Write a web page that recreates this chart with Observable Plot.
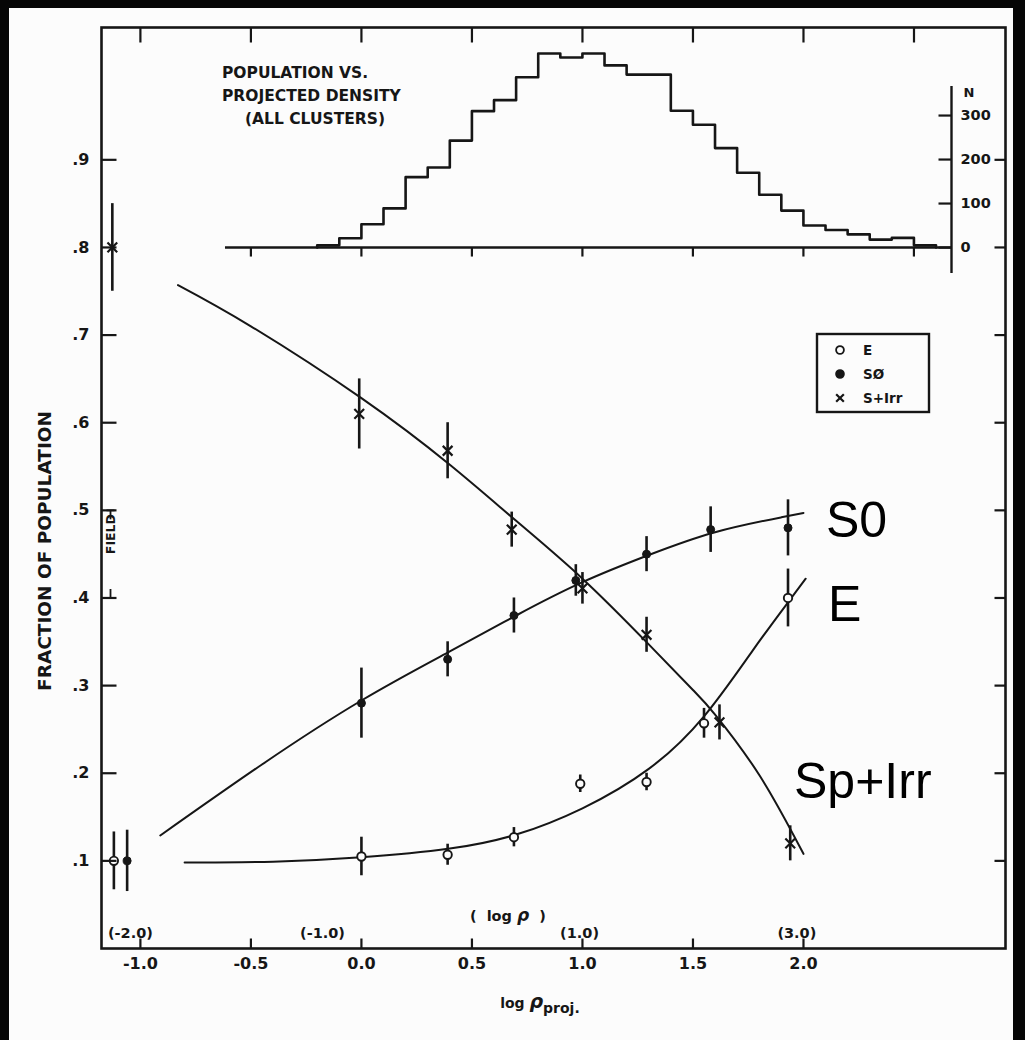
<!DOCTYPE html>
<html>
<head>
<meta charset="utf-8">
<script src="https://cdn.jsdelivr.net/npm/d3@7"></script>
<script src="https://cdn.jsdelivr.net/npm/@observablehq/plot@0.6"></script>
<style>
  html, body { margin: 0; padding: 0; width: 1025px; height: 1040px; overflow: hidden; background: #060606; }
  #paper { position: absolute; left: 9px; top: 8px; width: 1004px; height: 1032px; background: #fcfcfc; }
  #chart { position: absolute; left: 0; top: 0; width: 1025px; height: 1040px; }
  #chart svg { position: absolute; left: 0; top: 0; }
</style>
</head>
<body>
<div id="paper"></div>
<div id="chart"></div>
<script>
// ---- Morphology fractions vs. projected galaxy density ----
const eX    = [-1.12, 0.00, 0.39, 0.69, 0.99, 1.29, 1.55, 1.93];
const eY    = [0.100, 0.105, 0.107, 0.127, 0.188, 0.190, 0.257, 0.400];
const eErr  = [0.033, 0.022, 0.012, 0.011, 0.010, 0.010, 0.017, 0.033];

const s0X   = [-1.06, 0.00, 0.39, 0.69, 0.97, 1.29, 1.58, 1.93];
const s0Y   = [0.100, 0.280, 0.330, 0.380, 0.420, 0.450, 0.478, 0.480];
const s0Err = [0.035, 0.040, 0.020, 0.020, 0.018, 0.020, 0.026, 0.032];

const spX   = [-1.127, -0.01, 0.39, 0.68, 1.00, 1.29, 1.62, 1.94];
const spY   = [0.800, 0.610, 0.568, 0.478, 0.411, 0.358, 0.258, 0.120];
const spErr = [0.050, 0.040, 0.032, 0.020, 0.018, 0.020, 0.020, 0.020];

// smooth fitted relations
const eFitX  = [-0.80, -0.40, 0.00, 0.40, 0.70, 1.00, 1.30, 1.55, 1.77, 1.93, 2.01];
const eFitY  = [0.098, 0.099, 0.104, 0.114, 0.130, 0.160, 0.205, 0.265, 0.340, 0.395, 0.422];
const s0FitX = [-0.91, -0.45, 0.00, 0.40, 0.70, 1.00, 1.30, 1.60, 1.90, 2.00];
const s0FitY = [0.129, 0.210, 0.283, 0.339, 0.380, 0.418, 0.449, 0.475, 0.492, 0.497];
const spFitX = [-0.83, -0.50, 0.00, 0.40, 0.70, 1.00, 1.30, 1.50, 1.60, 1.80, 2.00];
const spFitY = [0.757, 0.710, 0.628, 0.552, 0.488, 0.422, 0.347, 0.295, 0.267, 0.198, 0.108];

// field bracket on the left axis
const fieldRange = [0.4, 0.5];

// axes
const yTicks = [0.1, 0.2, 0.3, 0.4, 0.5, 0.6, 0.7, 0.8, 0.9];
const yTickLabels = [".1", ".2", ".3", ".4", ".5", ".6", ".7", ".8", ".9"];
const xTicks = [-1.0, -0.5, 0.0, 0.5, 1.0, 1.5, 2.0];
const xTickLabels = ["-1.0", "-0.5", "0.0", "0.5", "1.0", "1.5", "2.0"];
const xTopTicks = [-1.0, -0.5, 0.0, 0.5, 1.0, 1.5, 2.0, 2.5];
const rhoTickAt = [-1.045, -0.176, 0.987, 1.97];
const rhoTickLabels = ["(-2.0)", "(-1.0)", "(1.0)", "(3.0)"];
const rhoTitleAt = 0.665;
const xTitleAt = 0.81;

// ---- Inset histogram: galaxy counts per projected-density bin ----
const histBinStart = [-0.2, -0.1, 0.0, 0.1, 0.2, 0.3, 0.4, 0.5, 0.6, 0.7, 0.8, 0.9, 1.0, 1.1,
                      1.2, 1.3, 1.4, 1.5, 1.6, 1.7, 1.8, 1.9, 2.0, 2.1, 2.2, 2.3, 2.4, 2.5];
const histCount    = [5, 21, 53, 89, 160, 182, 243, 310, 335, 387, 441, 432, 441, 414,
                      393, 393, 311, 279, 226, 170, 120, 84, 50, 40, 30, 18, 22, 5];
const histBinWidth = 0.1;
const histTicks = [-0.5, 0.0, 0.5, 1.0, 1.5, 2.0, 2.5];
const nTicks = [0, 100, 200, 300];
const histAxisStart = -0.615;   // left end of the inset baseline
const histAxisAt = 2.67;        // position of the N axis
const histTitle = ["POPULATION VS.", "PROJECTED DENSITY", "(ALL CLUSTERS)"];

// ---- styling ----
const ink = "#161616";
const paper = "#fcfcfc";
const font = "'DejaVu Sans', 'Liberation Sans', sans-serif";
const bigFont = "'Liberation Sans', Arial, sans-serif";

// short line glyphs used for tick marks (length = r)
function stub(dx, dy) {
  return {draw(context, size) {
    const l = Math.sqrt(size / Math.PI);
    context.moveTo(0, 0);
    context.lineTo(dx * l, dy * l);
  }};
}
const hbar = {draw(context, size) {
  const l = Math.sqrt(size / Math.PI);
  context.moveTo(-l, 0);
  context.lineTo(l, 0);
}};
const tickUp = stub(0, -1), tickDown = stub(0, 1), tickToLeft = stub(-1, 0), tickToRight = stub(1, 0);

const rows = (xs, ys, es) => xs.map((x, i) => ({x, y: ys[i], lo: ys[i] - es[i], hi: ys[i] + es[i]}));
const curve = (xs, ys) => xs.map((x, i) => ({x, y: ys[i]}));
const ePts = rows(eX, eY, eErr), s0Pts = rows(s0X, s0Y, s0Err), spPts = rows(spX, spY, spErr);

const tickStyle = {stroke: ink, fill: "none", strokeWidth: 2.2};
const textStyle = {fill: ink, fontFamily: font, fontWeight: "bold"};

const main = Plot.plot({
  width: 1025, height: 1040,
  marginLeft: 101, marginRight: 20, marginTop: 27, marginBottom: 92,
  x: {domain: [-1.176, 2.914], axis: null},
  y: {domain: [0, 1.051], axis: null},
  style: {background: "transparent", overflow: "visible"},
  marks: [
    // fitted curves
    Plot.line(curve(eFitX, eFitY), {x: "x", y: "y", curve: "natural", stroke: ink, strokeWidth: 2}),
    Plot.line(curve(s0FitX, s0FitY), {x: "x", y: "y", curve: "natural", stroke: ink, strokeWidth: 2}),
    Plot.line(curve(spFitX, spFitY), {x: "x", y: "y", curve: "natural", stroke: ink, strokeWidth: 2}),
    // error bars
    Plot.ruleX(ePts, {x: "x", y1: "lo", y2: "hi", stroke: ink, strokeWidth: 2.6}),
    Plot.ruleX(s0Pts, {x: "x", y1: "lo", y2: "hi", stroke: ink, strokeWidth: 2.6}),
    Plot.ruleX(spPts, {x: "x", y1: "lo", y2: "hi", stroke: ink, strokeWidth: 2.6}),
    // markers
    Plot.dot(spPts, {x: "x", y: "y", symbol: "times", r: 4.5, stroke: ink, strokeWidth: 2.2}),
    Plot.dot(s0Pts, {x: "x", y: "y", symbol: "circle", r: 4, fill: ink, stroke: ink, strokeWidth: 1}),
    Plot.dot(ePts, {x: "x", y: "y", symbol: "circle", r: 4.2, fill: paper, stroke: ink, strokeWidth: 1.9}),
    // frame and ticks
    Plot.frame({stroke: ink, strokeWidth: 2.6}),
    Plot.dot(yTicks, {y: d => d, frameAnchor: "left", symbol: tickToRight, r: 15, ...tickStyle}),
    Plot.dot(yTicks, {y: d => d, frameAnchor: "right", symbol: tickToLeft, r: 11, ...tickStyle}),
    Plot.dot(xTopTicks, {x: d => d, frameAnchor: "top", symbol: tickDown, r: 15, ...tickStyle}),
    Plot.dot(xTicks, {x: d => d, frameAnchor: "bottom", symbol: tickUp, r: 10, ...tickStyle}),
    Plot.text(yTicks, {y: d => d, text: (d, i) => yTickLabels[i], frameAnchor: "left", dx: -12,
      textAnchor: "end", fontSize: 16, ...textStyle}),
    Plot.text(xTicks, {x: d => d, text: (d, i) => xTickLabels[i], frameAnchor: "bottom", dy: 20,
      fontSize: 16, ...textStyle}),
    // upper density scale, written inside the bottom of the frame
    Plot.text(rhoTickAt, {x: d => d, text: (d, i) => rhoTickLabels[i], frameAnchor: "bottom", dy: -11,
      fontSize: 14.5, ...textStyle}),
    // field bracket
    Plot.dot(fieldRange, {y: d => d, frameAnchor: "left", dx: 9, symbol: hbar, r: 4, ...tickStyle, strokeWidth: 1.8}),
    Plot.dot([fieldRange[1]], {y: d => d, frameAnchor: "left", dx: 9, symbol: tickDown, r: 9, ...tickStyle, strokeWidth: 1.8}),
    Plot.dot([fieldRange[0]], {y: d => d, frameAnchor: "left", dx: 9, symbol: tickUp, r: 9, ...tickStyle, strokeWidth: 1.8}),
    Plot.text(["FIELD"], {y: d3.mean(fieldRange), text: d => d, frameAnchor: "left", dx: 9, rotate: -90,
      fontSize: 12.5, ...textStyle})
  ]
});

const hist = Plot.plot({
  width: 1025, height: 1040,
  marginLeft: 101, marginRight: 74, marginTop: 86, marginBottom: 767,
  x: {domain: [-1.176, histAxisAt], axis: null},
  y: {domain: [-59, 366], axis: null},
  style: {background: "transparent", overflow: "visible"},
  marks: [
    Plot.ruleX([histAxisAt], {stroke: ink, strokeWidth: 2.4}),
    Plot.ruleY([0], {x1: histAxisStart, x2: histAxisAt, stroke: ink, strokeWidth: 2.4}),
    Plot.dot(histTicks, {x: d => d, y: 0, symbol: tickDown, r: 9, ...tickStyle}),
    Plot.dot(nTicks, {y: d => d, frameAnchor: "right", symbol: tickToLeft, r: 13, ...tickStyle}),
    Plot.text(nTicks, {y: d => d, text: d => String(d), frameAnchor: "right", dx: 9, textAnchor: "start",
      fontSize: 14.5, ...textStyle}),
    Plot.text(["N"], {y: 352, text: d => d, frameAnchor: "right", dx: 23, fontSize: 13, ...textStyle}),
    Plot.line(
      [{x: histBinStart[0], n: 0},
       ...histBinStart.map((x, i) => ({x, n: histCount[i]})),
       {x: histBinStart[histBinStart.length - 1] + histBinWidth, n: 0}],
      {x: "x", y: "n", curve: "step-after", stroke: ink, strokeWidth: 2.6}
    )
  ]
});

document.getElementById("chart").append(main, hist);

// ---- annotations: titles, legend and curve names ----
const svg = d3.select(main);
const g = svg.append("g").attr("fill", ink).attr("font-family", font).attr("font-weight", "bold")
  .attr("text-anchor", "start");

// inset title
g.append("text").attr("x", 222).attr("y", 78).attr("font-size", 15.5).text(histTitle[0]);
g.append("text").attr("x", 222).attr("y", 101).attr("font-size", 15.5).text(histTitle[1]);
g.append("text").attr("x", 245).attr("y", 124).attr("font-size", 15.5).text(histTitle[2]);

// y-axis title
g.append("text")
  .attr("transform", "translate(51,551) rotate(-90)")
  .attr("text-anchor", "middle")
  .attr("font-size", 18.5)
  .text("FRACTION OF POPULATION");

// upper density scale title
const rhoT = g.append("text")
  .attr("x", main.scale("x").apply(rhoTitleAt)).attr("y", 921)
  .attr("text-anchor", "middle").attr("font-size", 14.5).attr("xml:space", "preserve");
rhoT.append("tspan").text("(  log ");
rhoT.append("tspan").attr("font-style", "italic").attr("font-size", 17).text("ρ");
rhoT.append("tspan").text("  )");

// x-axis title
const xT = g.append("text")
  .attr("x", main.scale("x").apply(xTitleAt)).attr("y", 1008)
  .attr("text-anchor", "middle").attr("font-size", 14);
xT.append("tspan").text("log ");
xT.append("tspan").attr("font-style", "italic").attr("font-size", 19).text("ρ");
xT.append("tspan").attr("dy", 5).attr("font-size", 14).text("proj.");

// legend
const lg = svg.append("g").attr("font-family", font).attr("font-weight", "bold").attr("fill", ink)
  .attr("text-anchor", "start");
lg.append("rect").attr("x", 817).attr("y", 334).attr("width", 112).attr("height", 78)
  .attr("fill", "none").attr("stroke", ink).attr("stroke-width", 2.4);
const legendRows = [
  {label: "E", sym: d3.symbolCircle, fill: paper},
  {label: "SØ", sym: d3.symbolCircle, fill: ink},
  {label: "S+Irr", sym: d3.symbolTimes, fill: "none"}
];
legendRows.forEach((r, i) => {
  const cy = 350 + i * 24;
  lg.append("path")
    .attr("transform", `translate(840,${cy})`)
    .attr("d", d3.symbol(r.sym, r.sym === d3.symbolTimes ? 40 : 48)())
    .attr("fill", r.fill).attr("stroke", ink).attr("stroke-width", r.sym === d3.symbolTimes ? 2.2 : 1.8);
  lg.append("text").attr("x", 863).attr("y", cy).attr("dy", "0.36em")
    .attr("font-size", 13.5).text(r.label);
});

// curve names
const names = svg.append("g").attr("font-family", bigFont).attr("font-size", 50).attr("fill", "#000")
  .attr("text-anchor", "start");
names.append("text").attr("x", 826).attr("y", 537).text("S0");
names.append("text").attr("x", 828).attr("y", 621).text("E");
names.append("text").attr("x", 794).attr("y", 798).text("Sp+Irr");
</script>
</body>
</html>
